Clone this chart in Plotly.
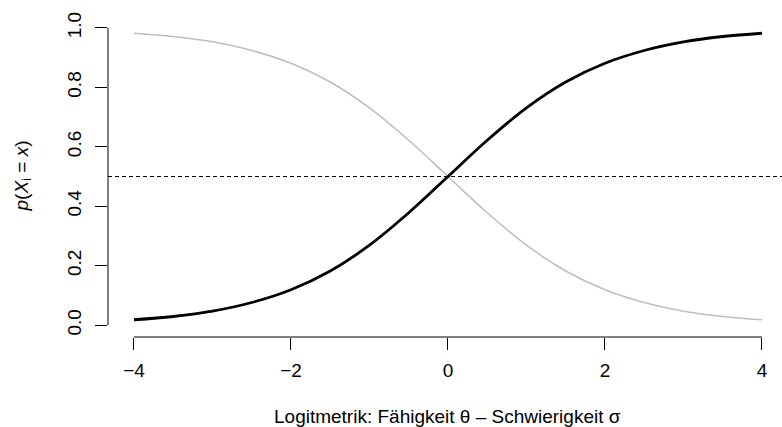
import plotly.graph_objects as go

# values
theta = [-4, -3.5, -3, -2.5, -2, -1.5, -1, -0.5, 0, 0.5, 1, 1.5, 2, 2.5, 3, 3.5, 4]
p_correct = [0.018, 0.029, 0.047, 0.076, 0.119, 0.182, 0.269, 0.378, 0.5,
             0.622, 0.731, 0.818, 0.881, 0.924, 0.953, 0.971, 0.982]
p_wrong = [0.982, 0.971, 0.953, 0.924, 0.881, 0.818, 0.731, 0.622, 0.5,
           0.378, 0.269, 0.182, 0.119, 0.076, 0.047, 0.029, 0.018]
x_ticks = [-4, -2, 0, 2, 4]
x_ticklabels = ["\u22124", "\u22122", "0", "2", "4"]
y_ticks = [0.0, 0.2, 0.4, 0.6, 0.8, 1.0]
y_ticklabels = ["0.0", "0.2", "0.4", "0.6", "0.8", "1.0"]
h_line = 0.5

FONT = "Liberation Sans, Arial, Helvetica, sans-serif"
FS = 19

fig = go.Figure()
fig.add_trace(go.Scatter(x=theta, y=p_wrong, mode="lines", line=dict(color="#bebebe", width=1.5, shape="spline"),
                         showlegend=False, hoverinfo="skip"))
fig.add_trace(go.Scatter(x=theta, y=p_correct, mode="lines", line=dict(color="black", width=2.8, shape="spline"),
                         showlegend=False, hoverinfo="skip"))

# dashed horizontal line across the plot region
fig.add_shape(type="line", xref="paper", x0=0, x1=1, yref="y", y0=h_line, y1=h_line,
              line=dict(color="black", width=1, dash="4px,3px"))
# axis lines spanning only the tick range (R style)
fig.add_shape(type="line", xref="paper", x0=0, x1=0, yref="y", y0=y_ticks[0], y1=y_ticks[-1],
              line=dict(color="black", width=1))
fig.add_shape(type="line", xref="x", x0=x_ticks[0], x1=x_ticks[-1], yref="paper", y0=0, y1=0,
              line=dict(color="black", width=1))

fig.update_xaxes(range=[-4.331, 4.255], showgrid=False, zeroline=False, showline=False,
                 tickmode="array", tickvals=x_ticks, ticktext=x_ticklabels,
                 ticks="outside", ticklen=12, tickwidth=1, tickcolor="black",
                 tickfont=dict(family=FONT, size=FS, color="black"), ticklabelstandoff=4)
fig.update_yaxes(range=[-0.04, 1.04], showgrid=False, zeroline=False, showline=False,
                 tickmode="array", tickvals=y_ticks, ticktext=y_ticklabels,
                 ticks="outside", ticklen=12, tickwidth=1, tickcolor="black", tickangle=-90,
                 tickfont=dict(family=FONT, size=FS, color="black"), ticklabelstandoff=6)

fig.add_annotation(text="Logitmetrik: Fähigkeit \u03b8 \u2013 Schwierigkeit \u03c3",
                   xref="x", x=0, yref="paper", y=0, yshift=-79, yanchor="middle",
                   showarrow=False, font=dict(family=FONT, size=FS, color="black"))
fig.add_annotation(text="<i>p</i>(<i>X</i><sub>i</sub> = <i>x</i>)",
                   xref="paper", x=0, xshift=-86, yref="y", y=0.5, xanchor="center",
                   textangle=-90, showarrow=False, font=dict(family=FONT, size=FS, color="black"))

fig.update_layout(width=782, height=427, margin=dict(l=108, r=0, t=16, b=90),
                  plot_bgcolor="white", paper_bgcolor="white")
fig.write_html("out.html")
